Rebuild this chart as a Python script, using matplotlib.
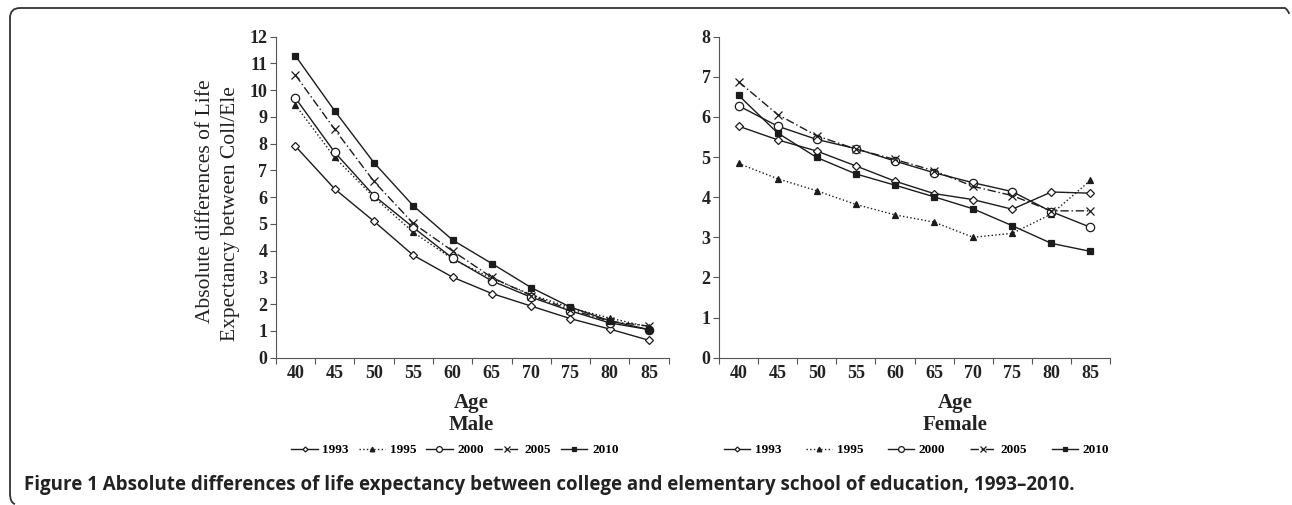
import numpy as np
import matplotlib
matplotlib.use('Agg')
import matplotlib.pyplot as plt
from matplotlib.path import Path
from matplotlib.patches import PathPatch

ages = ['40', '45', '50', '55', '60', '65', '70', '75', '80', '85']
years = ['1993', '1995', '2000', '2005', '2010']

male_1993 = [7.91, 6.31, 5.10, 3.83, 3.01, 2.40, 1.93, 1.46, 1.07, 0.65]
male_1995 = [9.45, 7.49, 6.00, 4.69, 3.69, 2.97, 2.36, 1.87, 1.48, 1.15]
male_2000 = [9.71, 7.68, 6.06, 4.87, 3.72, 2.87, 2.26, 1.75, 1.30, 1.05]
male_2005 = [10.57, 8.54, 6.59, 5.02, 3.99, 3.00, 2.32, 1.80, 1.36, 1.18]
male_2010 = [11.29, 9.23, 7.29, 5.68, 4.40, 3.52, 2.62, 1.89, 1.38, 1.05]

female_1993 = [5.77, 5.43, 5.15, 4.78, 4.40, 4.09, 3.94, 3.70, 4.13, 4.10]
female_1995 = [4.84, 4.46, 4.16, 3.82, 3.56, 3.38, 3.00, 3.10, 3.58, 4.42]
female_2000 = [6.28, 5.77, 5.44, 5.21, 4.90, 4.61, 4.36, 4.14, 3.64, 3.25]
female_2005 = [6.88, 6.06, 5.53, 5.20, 4.94, 4.66, 4.27, 4.04, 3.66, 3.66]
female_2010 = [6.54, 5.60, 4.99, 4.58, 4.30, 4.01, 3.71, 3.29, 2.85, 2.65]

W, H = 1292, 505
fig = plt.figure(figsize=(W / 100, H / 100), dpi=100)

serif = 'Liberation Serif'
ink = '#1c1c1c'
txt = '#222222'

# estilo de cada serie: (linestyle, marker, facecolor, markersize)
styles = {
    '1993': ('-', 'D', 'white', 3.6),
    '1995': (':', '^', ink, 4.8),
    '2000': ('-', 'o', 'white', 6.0),
    '2005': ((0, (6, 2, 1, 2)), 'x', ink, 5.5),
    '2010': ('-', 's', ink, 3.8),
}


def px(x0, y0, w, h):
    # caja en pixeles (desde arriba-izquierda) -> fracciones de figura
    return [x0 / W, 1 - (y0 + h) / H, w / W, h / H]


def panel(rect, series, ymax, title, lab_x, leg_x, leg_spacing):
    ax = fig.add_axes(rect)
    x = np.arange(len(ages))
    for yr, vals in zip(years, series):
        ls, mk, fc, ms = styles[yr]
        ax.plot(x, vals, linestyle=ls, marker=mk, color=ink, lw=1.0,
                markerfacecolor=fc, markeredgecolor=ink, markersize=ms,
                markeredgewidth=0.9, label=yr)
    ax.set_xlim(-0.5, len(ages) - 0.5)
    ax.set_ylim(0, ymax)
    ax.set_yticks(range(0, ymax + 1))
    ax.set_xticks(x)
    ax.set_xticklabels(ages)
    ax.set_xticks(np.arange(-0.5, len(ages)), minor=True)
    ax.tick_params(axis='x', which='major', length=0, pad=5)
    ax.tick_params(axis='x', which='minor', length=4, width=0.8, color='#555555')
    ax.tick_params(axis='y', length=4, width=0.8, color='#555555', pad=2)
    for lab in ax.get_xticklabels() + ax.get_yticklabels():
        lab.set_fontfamily(serif)
        lab.set_fontweight('bold')
        lab.set_fontsize(13)
        lab.set_color(txt)
    for s in ['top', 'right']:
        ax.spines[s].set_visible(False)
    for s in ['left', 'bottom']:
        ax.spines[s].set_color('#555555')
        ax.spines[s].set_linewidth(0.8)
    fig.text(lab_x / W, 1 - 403 / H, 'Age', ha='center', va='center',
             family=serif, weight='bold', fontsize=15, color=txt)
    fig.text(lab_x / W, 1 - 425 / H, title, ha='center', va='center',
             family=serif, weight='bold', fontsize=15, color=txt)
    leg = fig.legend(*ax.get_legend_handles_labels(), loc='center',
                     bbox_to_anchor=(leg_x / W, 1 - 450 / H), ncol=5,
                     frameon=False, handlelength=2.0, handletextpad=0.35,
                     columnspacing=leg_spacing,
                     prop={'family': serif, 'weight': 'bold', 'size': 9.5})
    for h in leg.legend_handles:
        h.set_markersize(h.get_markersize() * 0.7)
    return ax


panel(px(275.7, 36.7, 393, 321), [male_1993, male_1995, male_2000, male_2005, male_2010],
      12, 'Male', 471, 455, 0.75)
panel(px(719, 36.7, 391, 321), [female_1993, female_1995, female_2000, female_2005, female_2010],
      8, 'Female', 955, 916.5, 1.85)

# titulo del eje y (dos lineas)
fig.text(205 / W, 1 - 201 / H, 'Absolute differences of Life', rotation=90,
         ha='center', va='center', family=serif, fontsize=15.5, color=txt)
fig.text(230.7 / W, 1 - 214 / H, 'Expectancy between Coll/Ele', rotation=90,
         ha='center', va='center', family=serif, fontsize=15.5, color=txt)

# pie de figura
fig.text(24 / W, 1 - 485 / H,
         'Figure 1 Absolute differences of life expectancy between college and '
         'elementary school of education, 1993\u20132010.',
         ha='left', va='center', family='Open Sans', weight='bold', fontsize=13.5,
         color=txt)

# marco redondeado (abierto abajo y a la derecha)
r = 10
verts = [(1289, 14), (1289, 8 + r * 0.3), (1285, 8), (1285 - r, 8),
         (10 + r, 8), (10, 8), (10, 8 + r),
         (10, 503 - r), (10, 503), (10 + r * 0.5, 504)]
codes = [Path.MOVETO, Path.CURVE3, Path.CURVE3, Path.LINETO,
         Path.LINETO, Path.CURVE3, Path.CURVE3,
         Path.LINETO, Path.CURVE3, Path.CURVE3]
verts = [(vx / W, 1 - vy / H) for vx, vy in verts]
fig.patches.append(PathPatch(Path(verts, codes), transform=fig.transFigure,
                             fill=False, lw=1.3, edgecolor='#333333'))

fig.savefig('out.png', dpi=100)
